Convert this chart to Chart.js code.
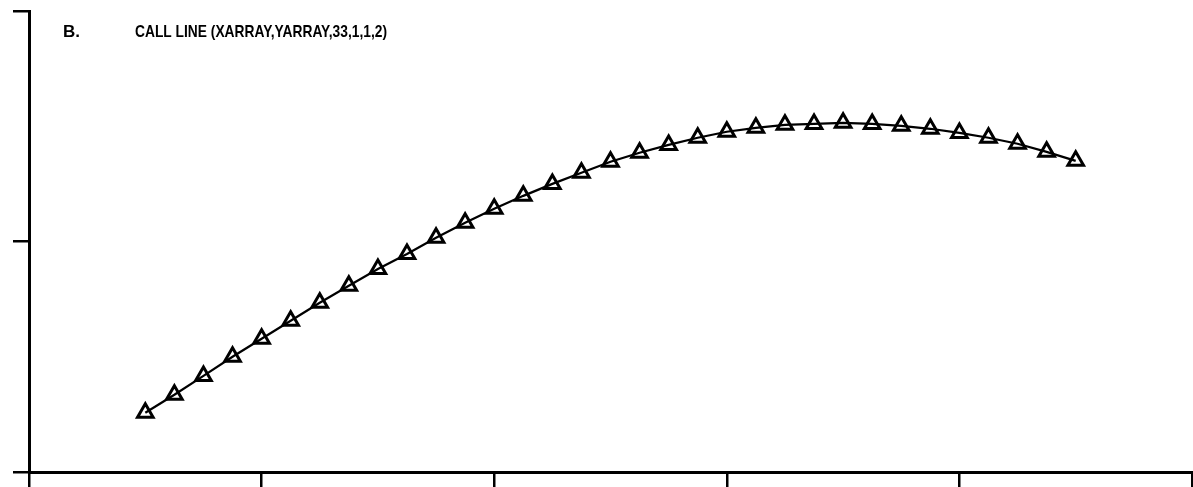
<!DOCTYPE html>
<html>
<head>
<meta charset="utf-8">
<script src="https://cdn.jsdelivr.net/npm/chart.js@4/dist/chart.umd.min.js"></script>
<style>
  html, body { margin: 0; padding: 0; background: #fff; }
  #wrap { position: relative; width: 1193px; height: 487px; }
</style>
</head>
<body>
<div id="wrap"><canvas id="c" width="1193" height="487"></canvas></div>
<script>
// Data (axis units: 1 unit per tick interval)
const xValues = [0.5,0.625,0.75,0.875,1.0,1.125,1.25,1.375,1.5,1.625,1.75,1.875,2.0,2.125,2.25,2.375,2.5,2.625,2.75,2.875,3.0,3.125,3.25,3.375,3.5,3.625,3.75,3.875,4.0,4.125,4.25,4.375,4.5];
const yValues = [0.257,0.335,0.417,0.500,0.578,0.656,0.734,0.808,0.881,0.946,1.016,1.081,1.142,1.198,1.250,1.298,1.346,1.385,1.419,1.450,1.476,1.493,1.506,1.510,1.515,1.510,1.502,1.489,1.471,1.450,1.424,1.389,1.350];
const xTicks = [0,1,2,3,4,5];
const yTicks = [0,1,2];
const titleLabel = "B.";
const titleText = "CALL LINE (XARRAY,YARRAY,33,1,1,2)";

const points = xValues.map((x, i) => ({ x: x, y: yValues[i] }));

const titlePlugin = {
  id: 'titleText',
  afterDraw(chart) {
    const ctx = chart.ctx;
    ctx.save();
    ctx.fillStyle = '#000';
    ctx.font = "bold 17px 'Liberation Sans Narrow', 'Liberation Sans', sans-serif";
    ctx.textBaseline = 'alphabetic';
    ctx.fillText(titleLabel, 63, 37);
    ctx.fillText(titleText, 135, 37, 252);
    ctx.restore();
  }
};

new Chart(document.getElementById('c'), {
  type: 'line',
  data: {
    datasets: [{
      data: points,
      borderColor: '#000',
      borderWidth: 2.2,
      pointStyle: 'triangle',
      pointRadius: 9,
      pointBorderWidth: 3,
      pointBorderColor: '#000',
      pointBackgroundColor: 'rgba(255,255,255,0)',
      tension: 0,
      clip: false
    }]
  },
  options: {
    responsive: false,
    animation: false,
    events: [],
    layout: { autoPadding: false, padding: { top: 11, right: 1, left: 0, bottom: 0 } },
    plugins: { legend: { display: false }, tooltip: { enabled: false }, title: { display: false } },
    scales: {
      x: {
        type: 'linear',
        min: 0, max: 5,
        afterBuildTicks(scale) { scale.ticks = xTicks.map(v => ({ value: v })); },
        afterFit(scale) { scale.height = 15; scale.paddingLeft = 0; scale.paddingRight = 0; },
        ticks: { display: false },
        grid: { drawOnChartArea: false, drawTicks: true, tickLength: 15, color: '#000', lineWidth: 2.5 },
        border: { display: true, color: '#000', width: 3 }
      },
      y: {
        type: 'linear',
        min: 0, max: 2,
        afterBuildTicks(scale) { scale.ticks = yTicks.map(v => ({ value: v })); },
        afterFit(scale) { scale.width = 29; scale.paddingTop = 0; scale.paddingBottom = 0; },
        ticks: { display: false },
        grid: { drawOnChartArea: false, drawTicks: true, tickLength: 16, color: '#000', lineWidth: 2.5 },
        border: { display: true, color: '#000', width: 3 }
      }
    }
  },
  plugins: [titlePlugin]
});
</script>
</body>
</html>
